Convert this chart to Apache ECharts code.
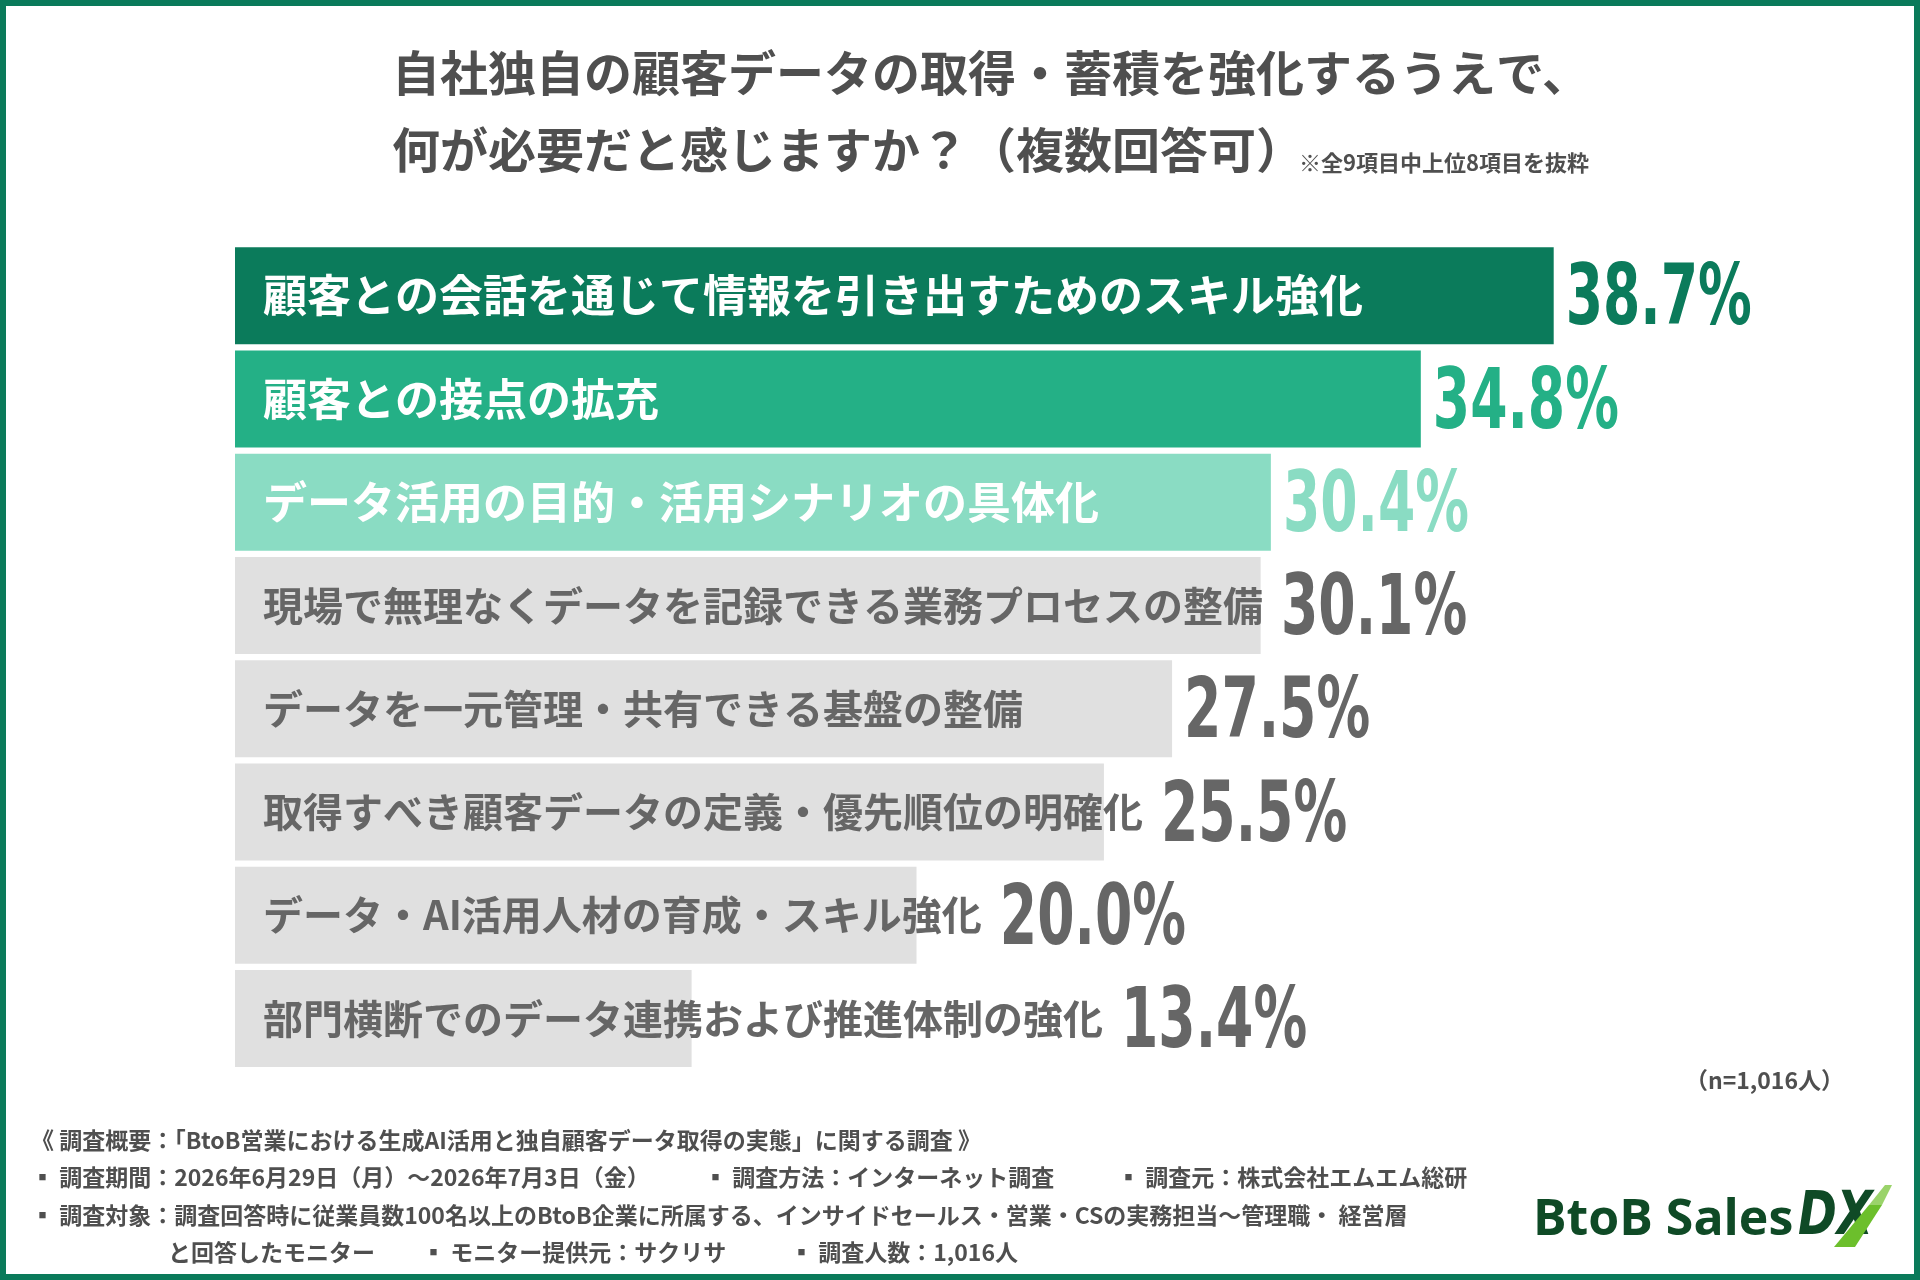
<!DOCTYPE html>
<html><head><meta charset="utf-8">
<script src="https://cdn.jsdelivr.net/npm/echarts@6/dist/echarts.min.js"></script>
<style>html,body{margin:0;padding:0;background:#fff}#c{width:1920px;height:1280px}</style>
</head><body><div id="c"></div>
<script>
const categories = [
  '顧客との会話を通じて情報を引き出すためのスキル強化',
  '顧客との接点の拡充',
  'データ活用の目的・活用シナリオの具体化',
  '現場で無理なくデータを記録できる業務プロセスの整備',
  'データを一元管理・共有できる基盤の整備',
  '取得すべき顧客データの定義・優先順位の明確化',
  'データ・AI活用人材の育成・スキル強化',
  '部門横断でのデータ連携および推進体制の強化'
];
const values = [38.7, 34.8, 30.4, 30.1, 27.5, 25.5, 20.0, 13.4];
const titleLines = ['自社独自の顧客データの取得・蓄積を強化するうえで、', '何が必要だと感じますか？（複数回答可）'];
const noteText = '※全9項目中上位8項目を抜粋';
const sampleText = '（n=1,016人）';
const footerLines = [
  ['《 調査概要：「BtoB営業における生成AI活用と独自顧客データ取得の実態」に関する調査 》'],
  ['▪ 調査期間：2026年6月29日（月）〜2026年7月3日（金）', '▪ 調査方法：インターネット調査', '▪ 調査元：株式会社エムエム総研'],
  ['▪ 調査対象：調査回答時に従業員数100名以上のBtoB企業に所属する、インサイドセールス・営業・CSの実務担当〜管理職・ 経営層'],
  ['と回答したモニター', '▪ モニター提供元：サクリサ', '▪ 調査人数：1,016人']
];

const barColors = ['#0b7b5b', '#24b086', '#8adcc3', '#e0e0e0', '#e0e0e0', '#e0e0e0', '#e0e0e0', '#e0e0e0'];
const valueColors = ['#0b7b5b', '#24b086', '#8adcc3', '#666666', '#666666', '#666666', '#666666', '#666666'];
const labelColors = ['#fff', '#fff', '#fff', '#666666', '#666666', '#666666', '#666666', '#666666'];
const labelSizes = [44, 44, 44, 40, 40, 40, 40, 40];
const CJK = '"Noto Sans CJK JP", "Noto Sans", sans-serif';
const NUM_FONT = 'bold 84px "DejaVu Sans Condensed", "DejaVu Sans", sans-serif';
const GRID_LEFT = 235, LABEL_PAD = 28;

const measureCtx = document.createElement('canvas').getContext('2d');
function textWidth(str, font) { measureCtx.font = font; return measureCtx.measureText(str).width; }

const chart = echarts.init(document.getElementById('c'), null, {renderer: 'canvas'});

function footer() {
  const ys = [1129, 1166, 1204, 1241];
  const xs = [[31], [31, 704, 1117], [31], [168, 422, 790]];
  const out = [];
  footerLines.forEach((line, li) => {
    line.forEach((t, ti) => {
      out.push({type: 'text', left: xs[li][ti], top: ys[li],
        style: {text: t, fill: '#4f4f4f', font: 'bold 23px ' + CJK}});
    });
  });
  return out;
}

chart.setOption({
  backgroundColor: '#fff',
  animation: false,
  grid: {left: GRID_LEFT, right: 322, top: 244, height: 826},
  xAxis: {type: 'value', min: 0, max: 40, show: false},
  yAxis: {type: 'category', data: categories, inverse: true, show: false},
  series: [
    {
      type: 'bar', barWidth: 97, silent: true,
      data: values.map((v, i) => ({
        value: v,
        itemStyle: {color: barColors[i]},
        label: {color: labelColors[i], fontSize: labelSizes[i]}
      })),
      label: {
        show: true, position: 'insideLeft', distance: LABEL_PAD,
        formatter: p => categories[p.dataIndex],
        fontFamily: CJK, fontWeight: 'bold'
      }
    },
    {
      type: 'custom', silent: true,
      data: values.map((v, i) => [v, i]),
      renderItem: (params, api) => {
        const i = params.dataIndex;
        const v = api.value(0);
        const end = api.coord([v, i]);
        const start = api.coord([0, i]);
        const tEnd = start[0] + LABEL_PAD + textWidth(categories[i], 'bold ' + labelSizes[i] + 'px ' + CJK);
        const x = Math.max(end[0] + 12, tEnd + 18);
        return {
          type: 'text', x: x, y: end[1] + 7, scaleX: 0.71, scaleY: 1, originX: 0, originY: 0,
          style: {text: v.toFixed(1) + '%', font: NUM_FONT, fill: valueColors[i],
            align: 'left', verticalAlign: 'middle'}
        };
      }
    }
  ],
  graphic: [
    {type: 'rect', silent: true, shape: {x: 3, y: 3, width: 1914, height: 1274},
      style: {fill: 'none', stroke: '#0a7a5a', lineWidth: 6}},
    {type: 'text', left: 392, top: 49, style: {text: titleLines[0], fill: '#4f4f4f',
      font: 'bold 48px ' + CJK}},
    {type: 'text', left: 392, top: 126, style: {text: titleLines[1], fill: '#4f4f4f',
      font: 'bold 48px ' + CJK}},
    {type: 'text', left: 1299, top: 152, style: {text: noteText, fill: '#4f4f4f',
      font: 'bold 22px ' + CJK}},
    {type: 'text', right: 76, top: 1069, style: {text: sampleText, fill: '#4f4f4f',
      font: 'bold 23px ' + CJK}},
    ...footer(),
    {type: 'text', x: 1533, y: 1196, style: {text: 'BtoB Sales', fill: '#0f4a26',
      font: 'bold 50px "Open Sans", "DejaVu Sans", sans-serif'}},
    {type: 'text', x: 1798, y: 1188, scaleX: 0.78, style: {text: 'DX', fill: '#0f4a26',
      font: 'italic bold 60px "DejaVu Sans", sans-serif'}},
    {type: 'polygon', silent: true, shape: {points: [[1834, 1247], [1855, 1247], [1882, 1205], [1869, 1205]]},
      style: {fill: '#6cbf2c'}},
    {type: 'polygon', silent: true, shape: {points: [[1869, 1205], [1882, 1205], [1892, 1185], [1885, 1185]]},
      style: {fill: '#9ad36a'}}
  ]
});
</script></body></html>
